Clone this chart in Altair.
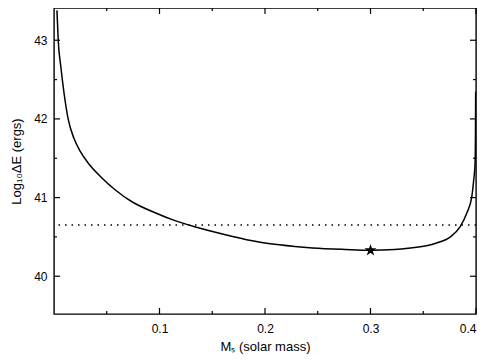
import altair as alt
import pandas as pd

# Curve
mass = [0.0028, 0.0040, 0.0065, 0.0096, 0.0134, 0.0190, 0.0252, 0.0329, 0.0454,
        0.0579, 0.0735, 0.0953, 0.114, 0.136, 0.154, 0.1825, 0.2136, 0.245,
        0.276, 0.300, 0.323, 0.338, 0.354, 0.362, 0.3757, 0.385, 0.3912,
        0.396, 0.3978, 0.3991, 0.3995, 0.3997]
log_e = [43.38, 43.00, 42.66, 42.32, 42.00, 41.75, 41.58, 41.43, 41.25,
         41.10, 40.95, 40.81, 40.71, 40.62, 40.555, 40.465, 40.40, 40.36,
         40.34, 40.33, 40.34, 40.36, 40.39, 40.42, 40.50, 40.63, 40.80,
         41.01, 41.22, 41.43, 41.80, 42.35]

ref_level = [40.65]
star_mass = [0.30]
star_e = [40.33]

x_major_ticks = [0.1, 0.2, 0.3, 0.4]
x_minor_ticks = [0.05, 0.15, 0.25, 0.35]
y_major_ticks = [40, 41, 42, 43]
y_minor_ticks = [40.5, 41.5, 42.5]

W, H = 422, 306
FONT = "Liberation Sans"
MAJ, MIN = 6, 3
STAR = ("M0,-1 L0.2245,-0.309 L0.951,-0.309 L0.3633,0.118 L0.588,0.809 "
        "L0,0.382 L-0.588,0.809 L-0.3633,0.118 L-0.951,-0.309 L-0.2245,-0.309 Z")

xs = alt.Scale(domain=[0, 0.4], nice=False, zero=False)
ys = alt.Scale(domain=[39.52, 43.41], nice=False, zero=False)

curve = pd.DataFrame({"m": mass, "e": log_e})
ref = pd.DataFrame({"e": ref_level})
star = pd.DataFrame({"m": star_mass, "e": star_e})

line = alt.Chart(curve).mark_line(
    color="black", strokeWidth=1.5, interpolate="monotone", clip=True
).encode(
    x=alt.X("m:Q", scale=xs, axis=alt.Axis(
        values=x_major_ticks, ticks=False, domain=False, grid=False,
        format=".1f", labelPadding=9, labelFontSize=12, title="Mₛ (solar mass)",
        titleFontSize=13, titleFontWeight="normal", titlePadding=6)),
    y=alt.Y("e:Q", scale=ys, axis=alt.Axis(
        values=y_major_ticks, ticks=False, domain=False, grid=False,
        format="d", labelPadding=7, labelFontSize=12, title="Log₁₀ΔE (ergs)",
        titleFontSize=13, titleFontWeight="normal", titlePadding=10)),
)

rule = alt.Chart(ref).mark_rule(
    color="black", strokeWidth=1.5, strokeDash=[1.5, 5]
).encode(y=alt.Y("e:Q", scale=ys))

stars = alt.Chart(star).mark_point(
    shape=STAR, filled=True, color="black", size=160, opacity=1
).encode(x=alt.X("m:Q", scale=xs), y=alt.Y("e:Q", scale=ys))


def xtick_layers(values, length):
    df = pd.DataFrame({"v": values})
    base = alt.Chart(df).mark_rule(color="black", strokeWidth=1.2)
    bottom = base.encode(x=alt.X("v:Q", scale=xs), y=alt.value(H), y2=alt.value(H - length))
    top = base.encode(x=alt.X("v:Q", scale=xs), y=alt.value(0), y2=alt.value(length))
    return [bottom, top]


def ytick_layers(values, length):
    df = pd.DataFrame({"v": values})
    base = alt.Chart(df).mark_rule(color="black", strokeWidth=1.2)
    left = base.encode(y=alt.Y("v:Q", scale=ys), x=alt.value(0), x2=alt.value(length))
    right = base.encode(y=alt.Y("v:Q", scale=ys), x=alt.value(W), x2=alt.value(W - length))
    return [left, right]


ticks = (xtick_layers(x_major_ticks, MAJ) + xtick_layers(x_minor_ticks, MIN)
         + ytick_layers(y_major_ticks, MAJ) + ytick_layers(y_minor_ticks, MIN))

chart = alt.layer(line, rule, stars, *ticks).properties(
    width=W, height=H, autosize="none",
    padding={"left": 46, "top": 0, "right": 7, "bottom": 46},
).configure_axis(
    labelFont=FONT, titleFont=FONT, labelColor="black", titleColor="black"
).configure_view(stroke="black", strokeWidth=1.4)

chart.save("out.html", embed_options={"renderer": "svg", "actions": False})
